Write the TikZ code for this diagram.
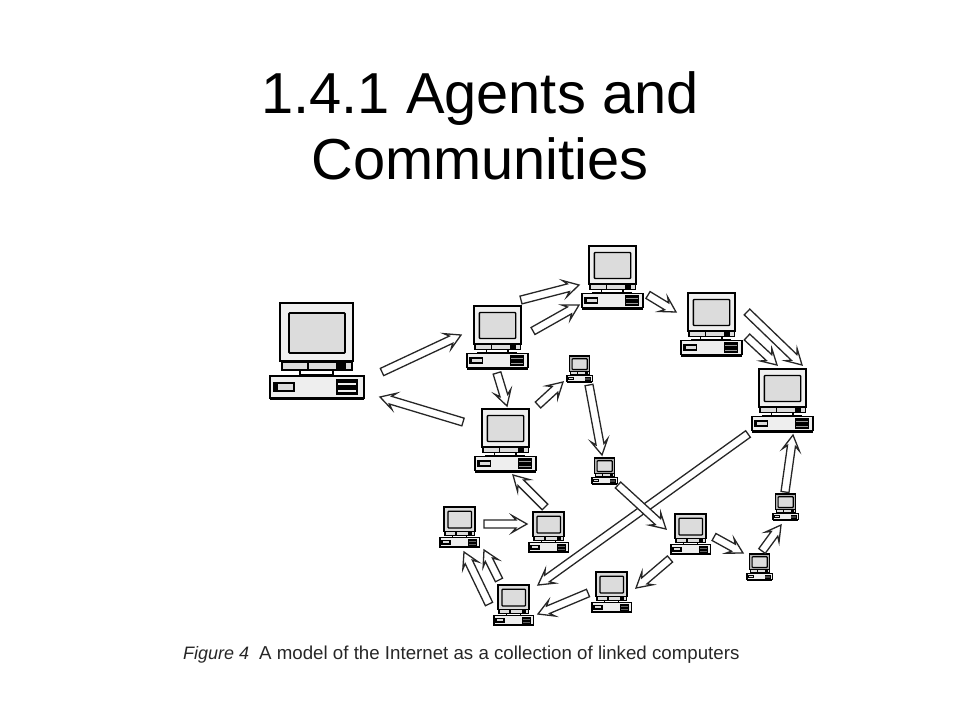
\documentclass[tikz,border=0pt]{standalone}
\usepackage{fontspec}
\setmainfont{Liberation Sans}
\usetikzlibrary{calc}
\definecolor{screengray}{HTML}{DCDCDC}
\definecolor{casegray}{HTML}{EEEEEE}
\tikzset{
	title/.style={align=center,inner sep=0,font=\fontsize{57.8}{66}\selectfont},
	caption/.style={anchor=base west,inner sep=0,text=black!85,font=\fontsize{18}{20}\selectfont},
	pcbox/.style={inner sep=0,minimum width=94pt,minimum height=97pt,transform shape},
	link/.style={draw=black!85,fill=white,line width=1.3pt,to path={
		($(\tikztostart)!4pt!90:(\tikztotarget)$)
		-- ($(\tikztotarget)!11pt!(\tikztostart)!4pt!90:(\tikztotarget)$)
		-- ($(\tikztotarget)!15pt!(\tikztostart)!8.5pt!90:(\tikztotarget)$)
		-- (\tikztotarget)
		-- ($(\tikztotarget)!15pt!(\tikztostart)!8.5pt!-90:(\tikztotarget)$)
		-- ($(\tikztotarget)!11pt!(\tikztostart)!4pt!-90:(\tikztotarget)$)
		-- ($(\tikztostart)!4pt!-90:(\tikztotarget)$) -- cycle}}
}
% name, left, top, scale
\newcommand{\computer}[4]{
	\begin{scope}[shift={(#2,#3)},scale=#4]
		\pgfmathsetlengthmacro{\pcline}{0.9pt+0.8pt*#4}
		\pgfmathsetmacro{\pcshade}{max(6,60-110*#4)}
		\node[pcbox] (#1) at (47,48.5) {};
		\begin{scope}[line width=\pcline]
			\draw[fill=casegray] (0,73) rectangle (94,95);
			\draw[line width=1.6*\pcline] (0,96) -- (94,96);
			\draw (16,72.5) -- (77,72.5);
			\draw[fill=white] (30,67) rectangle (63,72);
			\draw[fill=screengray] (12,59) rectangle (82,67);
			\draw (38,59) -- (38,67) (67,59) -- (67,67);
			\fill (67,60) rectangle (76,67);
			\draw[fill=black!\pcshade,line width=1.4*\pcline] (10,0) rectangle (83,58);
			\draw[fill=screengray,rounded corners=0.8] (19,10) rectangle (75,50);
			\draw[fill=screengray] (4,80) rectangle (24,88);
			\fill (4,80) rectangle (8,88);
			\fill (66,76) rectangle (88,92);
			\fill[casegray,opacity=#4] (68,80) rectangle (86,82);
			\fill[casegray,opacity=#4] (68,87) rectangle (86,89);
		\end{scope}
	\end{scope}
}
\begin{document}
\begin{tikzpicture}[x=1pt,y=-1pt]
	\useasboundingbox (0,0) rectangle (960,720);
	\node[title] (heading) at (480,126) {1.4.1 Agents and\\Communities};
	% computers
	\computer{pcBig}{270}{303}{1}
	\computer{pcA}{467}{306}{0.65}
	\computer{pcB}{475}{409}{0.65}
	\computer{pcC}{582}{246}{0.65}
	\computer{pcD}{681}{293}{0.65}
	\computer{pcE}{752}{369}{0.65}
	\computer{pcF}{567}{356}{0.27}
	\computer{pcG}{592}{458}{0.27}
	\computer{pcH}{440}{507}{0.42}
	\computer{pcI}{529}{512}{0.42}
	\computer{pcJ}{671}{514}{0.42}
	\computer{pcK}{747}{554}{0.27}
	\computer{pcL}{773}{494}{0.27}
	\computer{pcM}{592}{572}{0.42}
	\computer{pcN}{494}{585}{0.42}
	% links, tail then tip
	\foreach \n/\x/\y/\u/\v in {bigA/382/372/461/335,Bbig/463/422/380/397,AB/497/373/507/406,
		ACup/521/300/579/285,AClow/533/331/579/305,CD/648/295/676/312,DEout/747/312/802/365,
		DEin/747/337/777/365,BF/538/405/563/382,FG/589/385/602/455,EN/748/434/538/585,
		LE/785/492/793/435,GJ/618/485/666/529,IB/545/507/513/475,HI/484/524/527/524,
		NHout/489/604/464/552,NHin/499/580/484/550,MN/588/593/538/614,JM/670/559/636/588,
		JK/714/537/743/553,KL/762/551/781/525}{
		\coordinate (s\n) at (\x,\y);
		\coordinate (t\n) at (\u,\v);
		\draw[link] (s\n) to (t\n);
	}
	\node[caption] (figlabel) at (183,659) {\itshape Figure 4};
	\node[caption,font=\fontsize{18.7}{20}\selectfont] (figtext) at (259,659) {A model of the Internet as a collection of linked computers};
\end{tikzpicture}
\end{document}
